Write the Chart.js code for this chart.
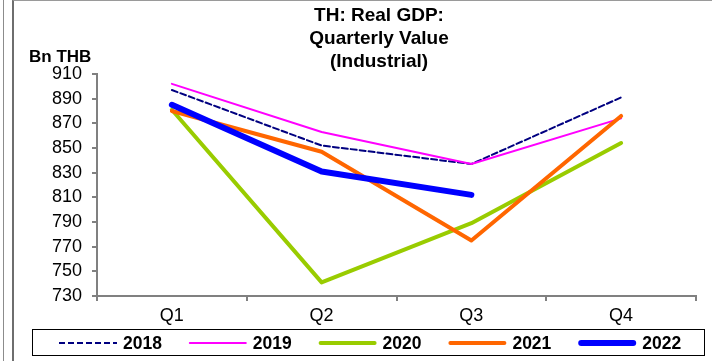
<!DOCTYPE html>
<html>
<head>
<meta charset="utf-8">
<script src="https://cdn.jsdelivr.net/npm/chart.js@4.4.0/dist/chart.umd.min.js"></script>
<style>
  html, body { margin: 0; padding: 0; background: #fff; }
  body { width: 712px; height: 361px; position: relative; overflow: hidden; }
  #frameL { position: absolute; left: 3px; top: 0; width: 0; height: 361px; border-left: 1px solid #8c8c8c; }
  #frame { position: absolute; left: 12px; top: 0; width: 698px; height: 380px; border: 1px solid #9a9a9a; border-left: 2px solid #6e6e6e; border-right: 2px solid #6e6e6e; }
  #chart { position: absolute; left: 0; top: 0; }
</style>
</head>
<body>
<div id="frameL"></div>
<div id="frame"></div>
<canvas id="chart" width="712" height="361"></canvas>
<script>
const quarters = ['Q1', 'Q2', 'Q3', 'Q4'];
const gdp2018 = [897, 852, 837, 891];
const gdp2019 = [902, 863, 837, 874];
const gdp2020 = [881, 741, 789, 854];
const gdp2021 = [880, 847, 775, 876];
const gdp2022 = [885, 831, 812, null];
const titleLines = ['TH: Real GDP:', 'Quarterly Value', '(Industrial)'];
const unitLabel = 'Bn THB';

const fontFamily = '"Liberation Sans", Arial, sans-serif';

// title, unit and boxed legend drawn on top of the chart
const decorPlugin = {
  id: 'decor',
  afterDraw(chart) {
    const ctx = chart.ctx;
    ctx.save();
    ctx.fillStyle = '#000';
    ctx.textBaseline = 'middle';
    ctx.textAlign = 'center';
    ctx.font = 'bold 19px ' + fontFamily;
    const titleY = [16, 39, 62];
    titleLines.forEach((t, i) => ctx.fillText(t, 379, titleY[i]));

    ctx.textAlign = 'left';
    ctx.font = 'bold 17px ' + fontFamily;
    ctx.fillText(unitLabel, 29, 57);

    // legend box
    ctx.strokeStyle = '#000';
    ctx.lineWidth = 1;
    ctx.strokeRect(32.5, 329.5, 672, 26);
    const ly = 343;
    chart.data.datasets.forEach((ds, i) => {
      const x0 = 59 + i * 129.8;
      ctx.beginPath();
      ctx.strokeStyle = ds.borderColor;
      ctx.lineWidth = ds.borderWidth;
      ctx.lineCap = ds.borderDash ? 'butt' : 'round';
      ctx.setLineDash(ds.borderDash || []);
      const inset = ds.borderDash ? 0 : ds.borderWidth / 2;
      ctx.moveTo(x0 + inset, ly);
      ctx.lineTo(x0 + 58 - inset, ly);
      ctx.stroke();
      ctx.setLineDash([]);
      ctx.fillStyle = '#000';
      ctx.font = 'bold 17.5px ' + fontFamily;
      ctx.fillText(ds.label, x0 + 64, ly + 1);
    });
    ctx.restore();
  }
};

const ctx = document.getElementById('chart').getContext('2d');
const gdpChart = new Chart(ctx, {
  type: 'line',
  data: {
    labels: quarters,
    datasets: [
      { label: '2018', data: gdp2018, borderColor: '#000080', borderWidth: 2, borderDash: [6, 3], order: 5 },
      { label: '2019', data: gdp2019, borderColor: '#ff00ff', borderWidth: 2, order: 4 },
      { label: '2020', data: gdp2020, borderColor: '#99cc00', borderWidth: 4, order: 3 },
      { label: '2021', data: gdp2021, borderColor: '#ff6600', borderWidth: 4, order: 2 },
      { label: '2022', data: gdp2022, borderColor: '#0000ff', borderWidth: 6, order: 1 }
    ]
  },
  options: {
    responsive: false,
    animation: false,
    devicePixelRatio: 1,
    elements: {
      point: { radius: 0, hoverRadius: 0 },
      line: { tension: 0, fill: false, borderCapStyle: 'round', borderJoinStyle: 'round' }
    },
    layout: { padding: { left: 0, top: 74, right: 16, bottom: 0 } },
    plugins: {
      legend: { display: false },
      title: { display: false },
      tooltip: { enabled: false }
    },
    scales: {
      x: {
        offset: true,
        afterFit(scale) { scale.height = 65; },
        grid: { offset: true, drawOnChartArea: false, drawTicks: true, tickLength: 5, color: '#808080', lineWidth: 2 },
        border: { color: '#808080', width: 2 },
        ticks: { color: '#000', padding: 4, font: { family: fontFamily, size: 18 } }
      },
      y: {
        min: 730,
        max: 910,
        afterFit(scale) { scale.width = 97; },
        grid: { drawOnChartArea: false, drawTicks: true, tickLength: 5, color: '#808080', lineWidth: 2 },
        border: { color: '#808080', width: 2 },
        ticks: { stepSize: 20, color: '#000', padding: 10, font: { family: fontFamily, size: 18 } }
      }
    }
  },
  plugins: [decorPlugin]
});
</script>
</body>
</html>
